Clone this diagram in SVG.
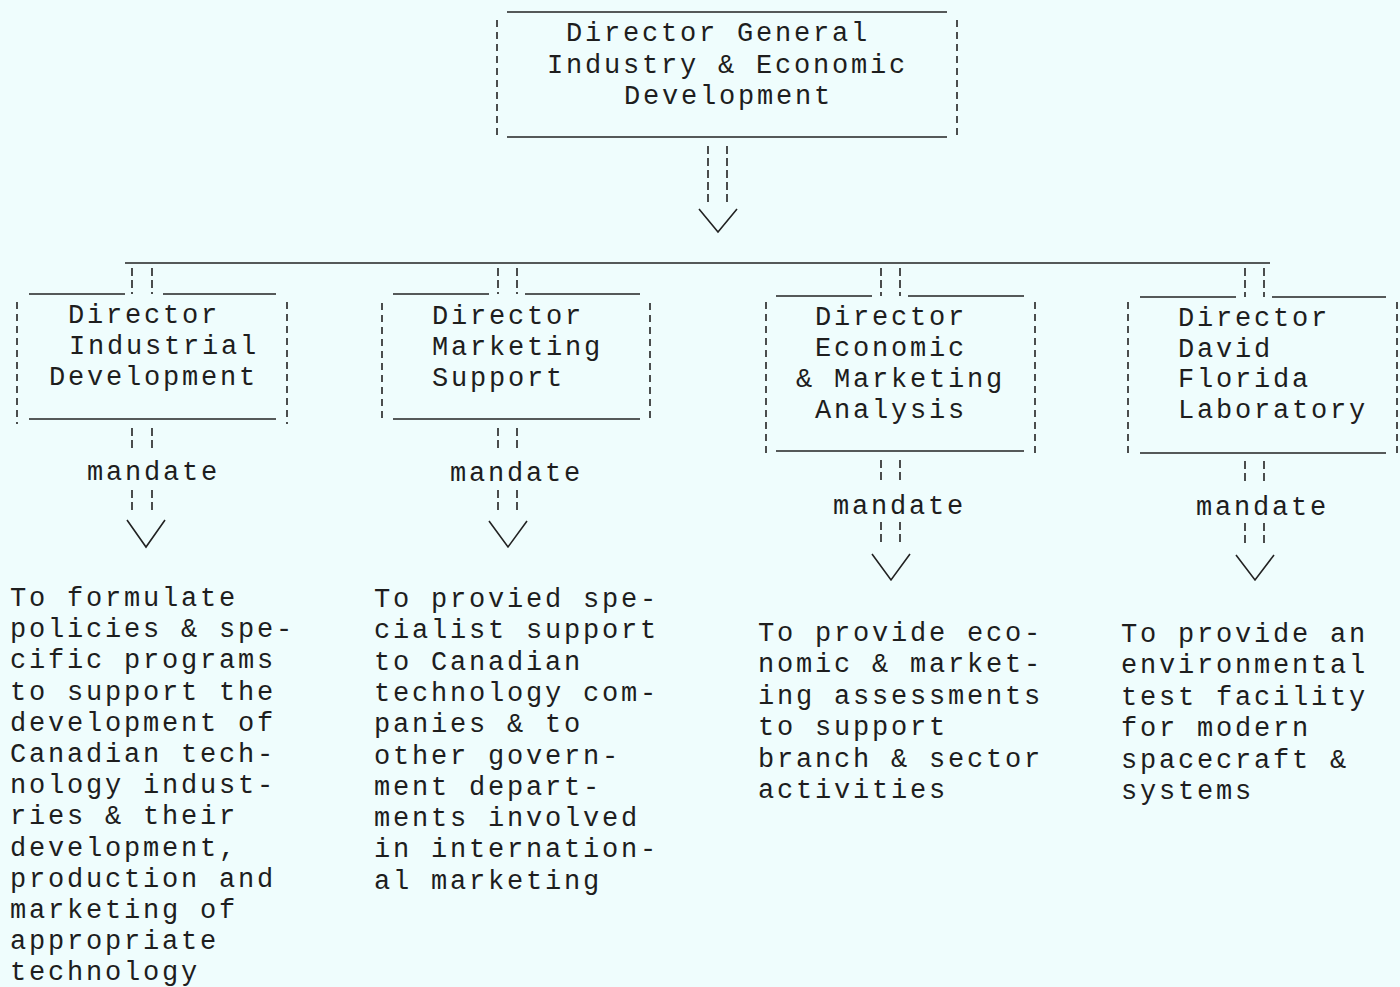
<svg xmlns="http://www.w3.org/2000/svg" width="1400" height="987" viewBox="0 0 1400 987">
<style>
  .bg { fill: #effdfd; }
  text { font-family: "Liberation Mono", "DejaVu Sans Mono", monospace; font-size: 27px; letter-spacing: 2.8px; fill: #1e1e1e; }
  .h { stroke: #222; stroke-width: 1.6; fill: none; }
  .v { stroke: #222; stroke-width: 1.6; fill: none; stroke-dasharray: 7 5; }
  .c { stroke: #222; stroke-width: 1.6; fill: none; stroke-dasharray: 8 4; }
  .chev { stroke: #222; stroke-width: 1.6; fill: none; }
</style>
<rect class="bg" x="0" y="0" width="1400" height="987"/>

<g id="dg">
  <line class="h" x1="507" y1="12" x2="947" y2="12"/>
  <line class="h" x1="507" y1="137" x2="947" y2="137"/>
  <line class="v" x1="497" y1="20" x2="497" y2="135"/>
  <line class="v" x1="957" y1="20" x2="957" y2="135"/>
  <text x="566" y="41">Director General</text>
  <text x="547" y="73">Industry &amp; Economic</text>
  <text x="624" y="104">Development</text>
</g>

<g id="industrial">
  <line class="h" x1="29" y1="294" x2="125" y2="294"/>
  <line class="h" x1="163" y1="294" x2="276" y2="294"/>
  <line class="h" x1="29" y1="419" x2="276" y2="419"/>
  <line class="v" x1="17" y1="302" x2="17" y2="424"/>
  <line class="v" x1="287" y1="302" x2="287" y2="424"/>
  <text x="68" y="323">Director</text>
  <text x="69" y="354">Industrial</text>
  <text x="49" y="385">Development</text>
</g>

<g id="marketing">
  <line class="h" x1="393" y1="294" x2="489" y2="294"/>
  <line class="h" x1="525" y1="294" x2="640" y2="294"/>
  <line class="h" x1="393" y1="419" x2="640" y2="419"/>
  <line class="v" x1="382" y1="303" x2="382" y2="423"/>
  <line class="v" x1="650" y1="303" x2="650" y2="423"/>
  <text x="432" y="324">Director</text>
  <text x="432" y="355">Marketing</text>
  <text x="432" y="386">Support</text>
</g>

<g id="analysis">
  <line class="h" x1="776" y1="296" x2="872" y2="296"/>
  <line class="h" x1="908" y1="296" x2="1024" y2="296"/>
  <line class="h" x1="776" y1="451" x2="1024" y2="451"/>
  <line class="v" x1="766" y1="302" x2="766" y2="455"/>
  <line class="v" x1="1035" y1="302" x2="1035" y2="455"/>
  <text x="815" y="325">Director</text>
  <text x="815" y="356">Economic</text>
  <text x="796" y="387">&amp; Marketing</text>
  <text x="815" y="418">Analysis</text>
</g>

<g id="florida">
  <line class="h" x1="1140" y1="297" x2="1236" y2="297"/>
  <line class="h" x1="1272" y1="297" x2="1386" y2="297"/>
  <line class="h" x1="1140" y1="453" x2="1386" y2="453"/>
  <line class="v" x1="1128" y1="302" x2="1128" y2="456"/>
  <line class="v" x1="1397" y1="302" x2="1397" y2="456"/>
  <text x="1178" y="326">Director</text>
  <text x="1178" y="357">David</text>
  <text x="1178" y="387">Florida</text>
  <text x="1178" y="418">Laboratory</text>
</g>

<g id="mandate-industrial">
  <text x="87" y="480">mandate</text>
  <text x="10" y="606"><tspan x="10">To formulate</tspan><tspan x="10" dy="31.2">policies &amp; spe-</tspan><tspan x="10" dy="31.2">cific programs</tspan><tspan x="10" dy="31.2">to support the</tspan><tspan x="10" dy="31.2">development of</tspan><tspan x="10" dy="31.2">Canadian tech-</tspan><tspan x="10" dy="31.2">nology indust-</tspan><tspan x="10" dy="31.2">ries &amp; their</tspan><tspan x="10" dy="31.2">development,</tspan><tspan x="10" dy="31.2">production and</tspan><tspan x="10" dy="31.2">marketing of</tspan><tspan x="10" dy="31.2">appropriate</tspan><tspan x="10" dy="31.2">technology</tspan></text>
</g>

<g id="mandate-marketing">
  <text x="450" y="481">mandate</text>
  <text x="374" y="607"><tspan x="374">To provied spe-</tspan><tspan x="374" dy="31.3">cialist support</tspan><tspan x="374" dy="31.3">to Canadian</tspan><tspan x="374" dy="31.3">technology com-</tspan><tspan x="374" dy="31.3">panies &amp; to</tspan><tspan x="374" dy="31.3">other govern-</tspan><tspan x="374" dy="31.3">ment depart-</tspan><tspan x="374" dy="31.3">ments involved</tspan><tspan x="374" dy="31.3">in internation-</tspan><tspan x="374" dy="31.3">al marketing</tspan></text>
</g>

<g id="mandate-analysis">
  <text x="833" y="514">mandate</text>
  <text x="758" y="641"><tspan x="758">To provide eco-</tspan><tspan x="758" dy="31.4">nomic &amp; market-</tspan><tspan x="758" dy="31.4">ing assessments</tspan><tspan x="758" dy="31.4">to support</tspan><tspan x="758" dy="31.4">branch &amp; sector</tspan><tspan x="758" dy="31.4">activities</tspan></text>
</g>

<g id="mandate-florida">
  <text x="1196" y="515">mandate</text>
  <text x="1121" y="642"><tspan x="1121">To provide an</tspan><tspan x="1121" dy="31.4">environmental</tspan><tspan x="1121" dy="31.4">test facility</tspan><tspan x="1121" dy="31.4">for modern</tspan><tspan x="1121" dy="31.4">spacecraft &amp;</tspan><tspan x="1121" dy="31.4">systems</tspan></text>
</g>

<g id="connectors">
  <line class="c" x1="708" y1="146" x2="708" y2="202"/>
  <line class="c" x1="727" y1="146" x2="727" y2="202"/>
  <polyline class="chev" points="699,209 718,232 737,209"/>
  <line class="h" x1="125" y1="263" x2="1270" y2="263"/>

  <line class="c" x1="132" y1="268" x2="132" y2="294"/>
  <line class="c" x1="152" y1="268" x2="152" y2="294"/>
  <line class="c" x1="132" y1="428" x2="132" y2="452"/>
  <line class="c" x1="152" y1="428" x2="152" y2="452"/>
  <line class="c" x1="132" y1="490" x2="132" y2="514"/>
  <line class="c" x1="152" y1="490" x2="152" y2="514"/>
  <polyline class="chev" points="127,520 146,547 165,520"/>

  <line class="c" x1="498" y1="268" x2="498" y2="294"/>
  <line class="c" x1="517" y1="268" x2="517" y2="294"/>
  <line class="c" x1="498" y1="428" x2="498" y2="452"/>
  <line class="c" x1="517" y1="428" x2="517" y2="452"/>
  <line class="c" x1="498" y1="490" x2="498" y2="514"/>
  <line class="c" x1="517" y1="490" x2="517" y2="514"/>
  <polyline class="chev" points="489,521 508,547 527,521"/>

  <line class="c" x1="881" y1="268" x2="881" y2="296"/>
  <line class="c" x1="900" y1="268" x2="900" y2="296"/>
  <line class="c" x1="881" y1="460" x2="881" y2="484"/>
  <line class="c" x1="900" y1="460" x2="900" y2="484"/>
  <line class="c" x1="881" y1="522" x2="881" y2="546"/>
  <line class="c" x1="900" y1="522" x2="900" y2="546"/>
  <polyline class="chev" points="872,554 891,580 910,554"/>

  <line class="c" x1="1245" y1="268" x2="1245" y2="297"/>
  <line class="c" x1="1264" y1="268" x2="1264" y2="297"/>
  <line class="c" x1="1245" y1="461" x2="1245" y2="485"/>
  <line class="c" x1="1264" y1="461" x2="1264" y2="485"/>
  <line class="c" x1="1245" y1="523" x2="1245" y2="547"/>
  <line class="c" x1="1264" y1="523" x2="1264" y2="547"/>
  <polyline class="chev" points="1236,555 1255,580 1274,555"/>
</g>
</svg>
